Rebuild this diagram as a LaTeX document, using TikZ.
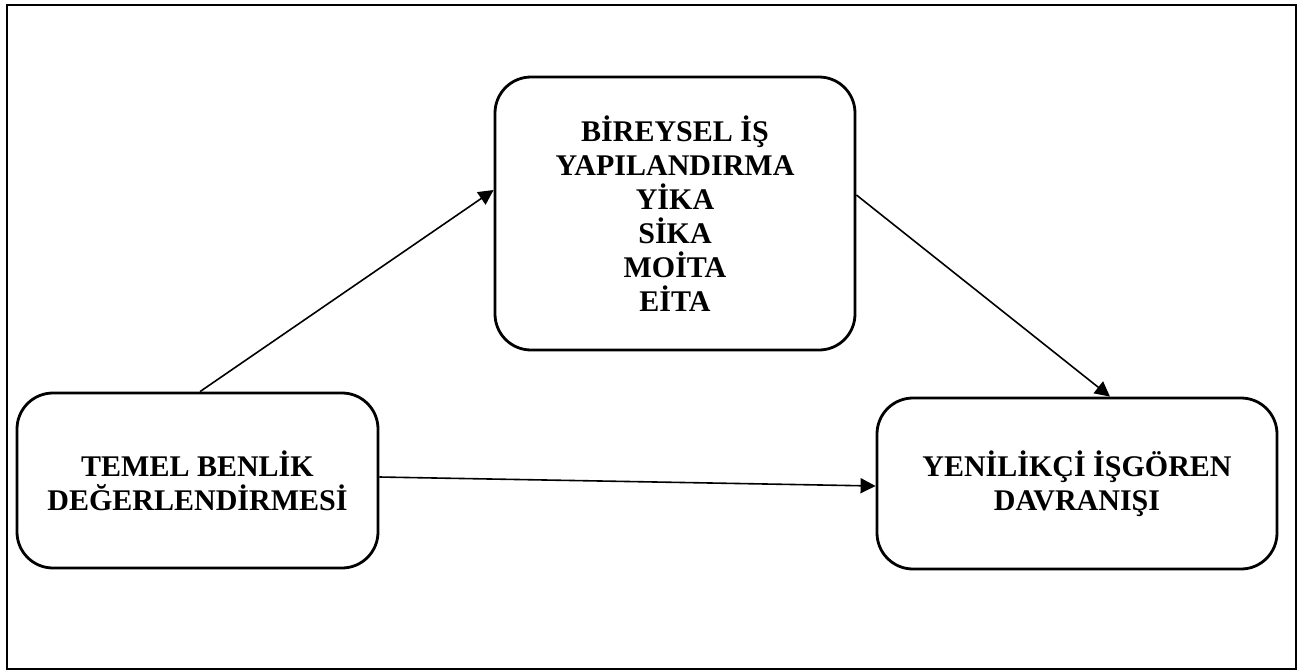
\documentclass[tikz,border=0pt]{standalone}
\usepackage{fontspec}
\setmainfont{Liberation Serif}
\usetikzlibrary{arrows.meta}
\begin{document}
\begin{tikzpicture}[x=1pt,y=-1pt,
  box/.style={draw, line width=2.8pt, rounded corners=36pt, align=center,
    font=\bfseries\fontsize{30}{34}\selectfont, inner sep=0pt},
  link/.style={line width=1.6pt, -{Triangle[length=15pt,width=15pt]}}]
  \useasboundingbox (0,0) rectangle (1304,672);
  % outer frame
  \draw[line width=2.6pt] (7,5) rectangle (1296,669);
  % boxes
  \node[box, minimum width=360pt, minimum height=273pt] (t) at (675,213.5)
    {BİREYSEL İŞ\\YAPILANDIRMA\\YİKA\\SİKA\\MOİTA\\EİTA};
  \node[box, minimum width=361pt, minimum height=175pt] (l) at (197.5,480.5)
    {TEMEL BENLİK\\DEĞERLENDİRMESİ};
  \node[box, minimum width=400pt, minimum height=171pt] (r) at (1077,483.5)
    {YENİLİKÇİ İŞGÖREN\\DAVRANIŞI};
  % connectors
  \draw[link] ([xshift=2.5pt]l.north) -- ([yshift=23.5pt]t.west);
  \draw[link] ([yshift=18.5pt]t.east) -- ([xshift=33pt]r.north);
  \draw[link] ([yshift=3.5pt]l.east) -- ([yshift=-2.5pt]r.west);
\end{tikzpicture}
\end{document}
